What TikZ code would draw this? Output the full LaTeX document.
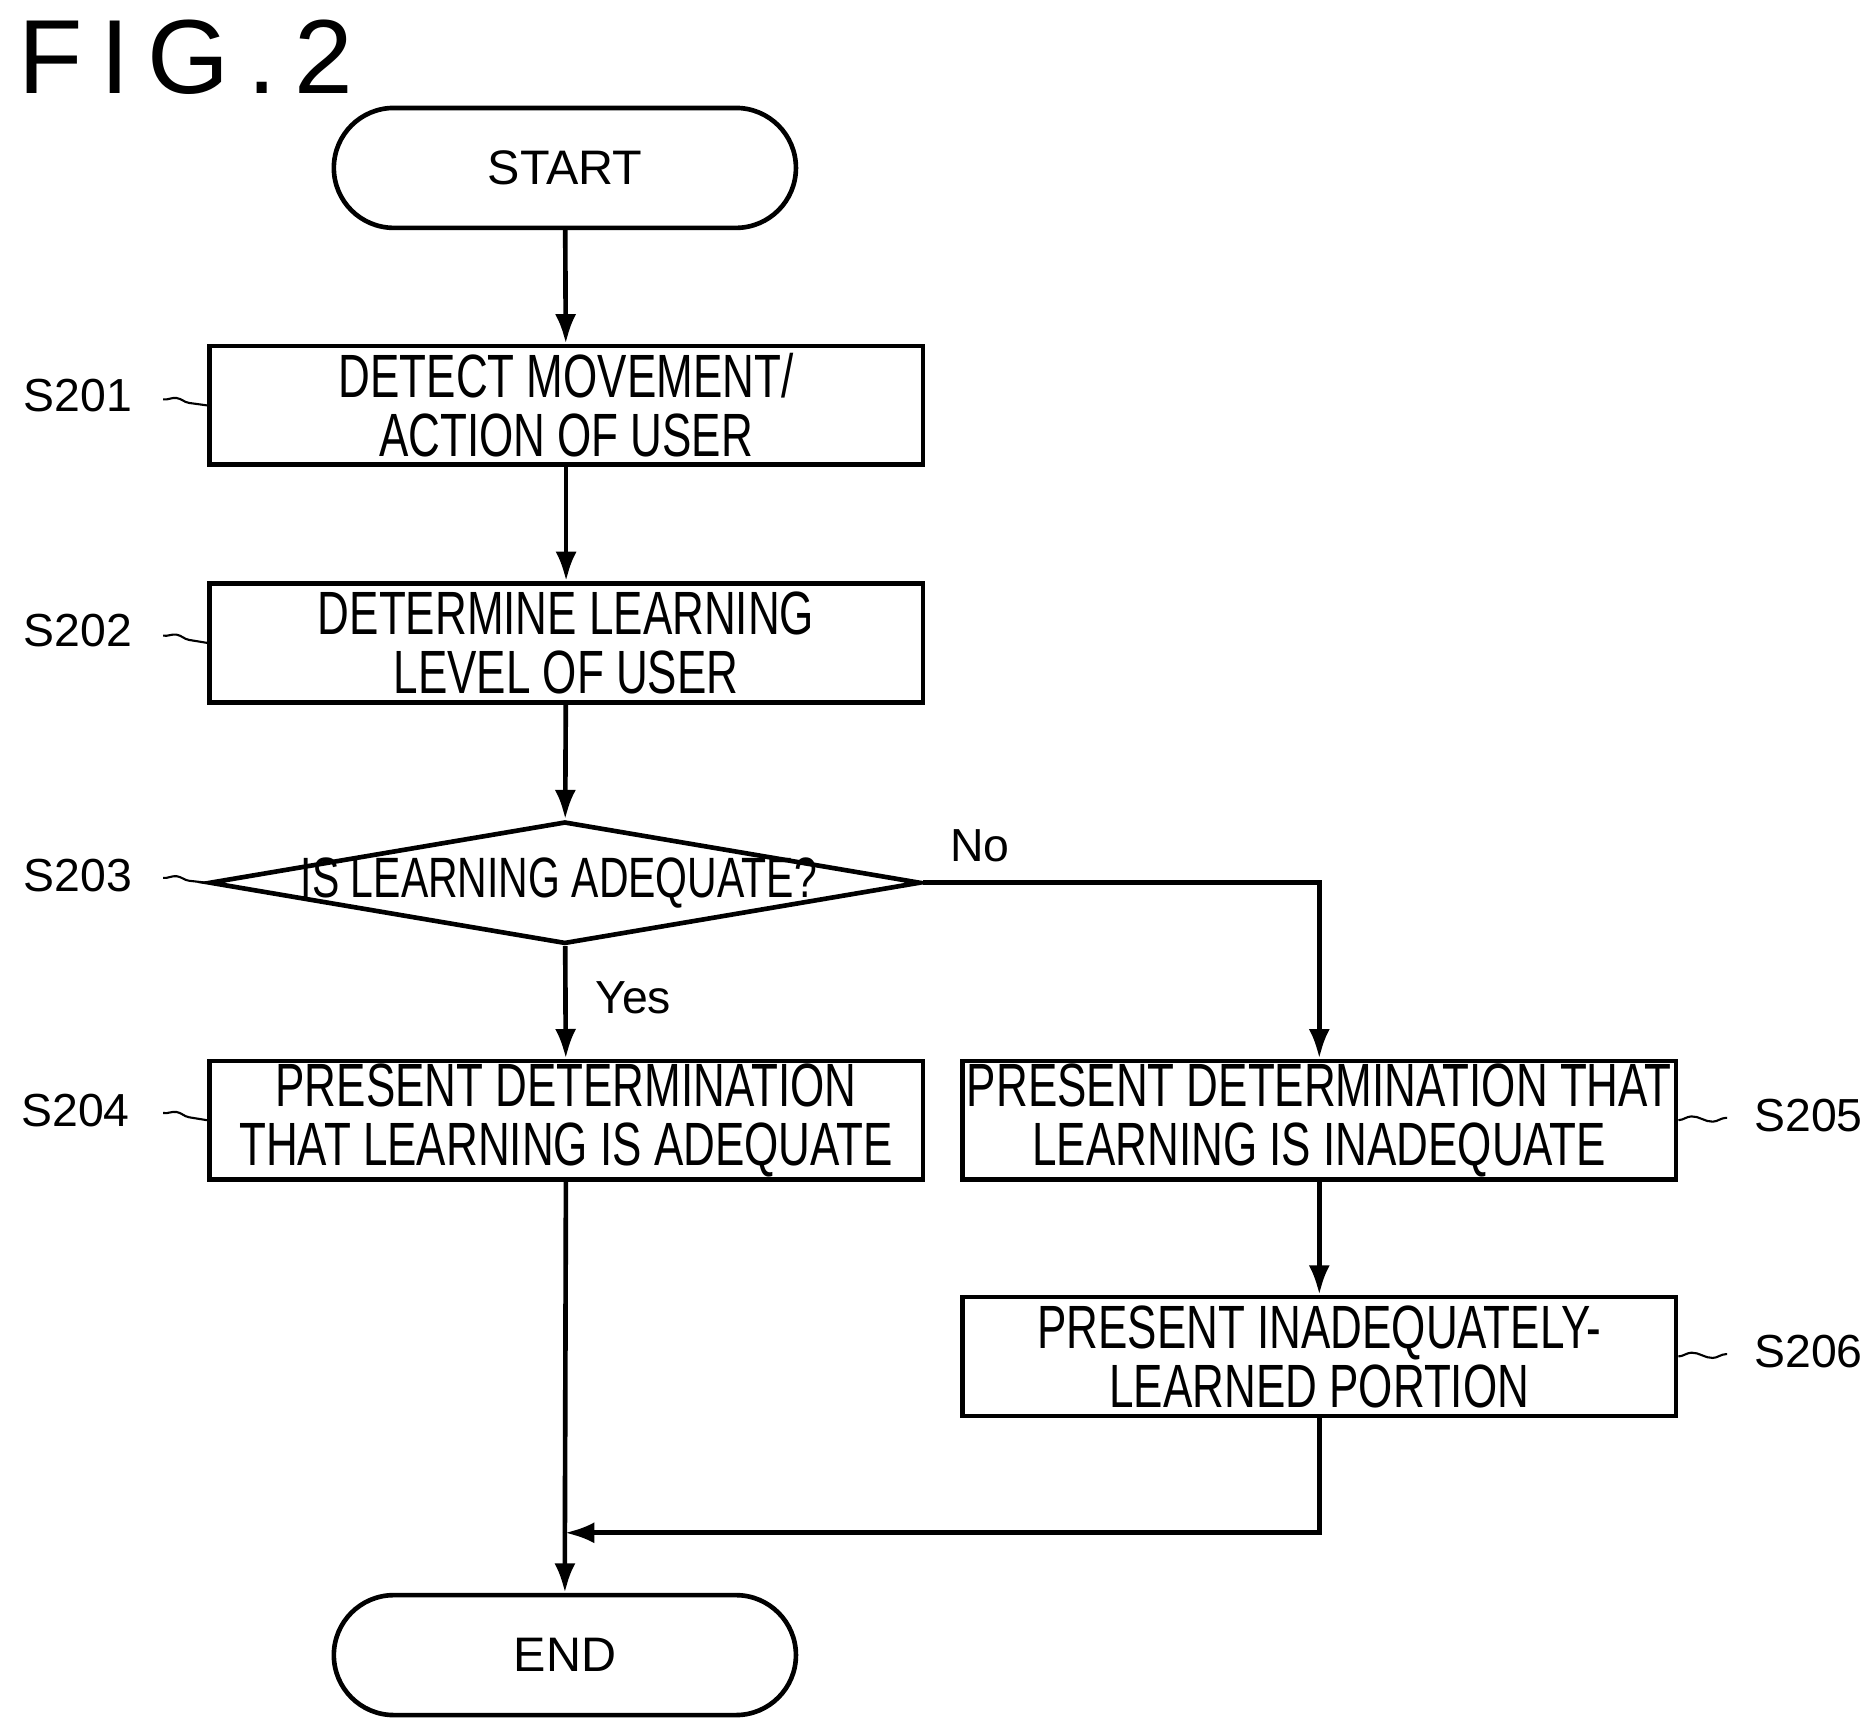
\documentclass[tikz,border=0pt]{standalone}
\usepackage{fontspec}
\setmainfont{Liberation Sans}
\newfontfamily\narrowf[FakeStretch=0.72]{Liberation Sans}
\usetikzlibrary{shapes.geometric,arrows.meta,decorations.pathmorphing}
\begin{document}
\begin{tikzpicture}[x=0.02cm,y=-0.02cm,line width=2.2pt,
 box/.style={draw,rectangle,minimum width=595*0.02cm,minimum height=99*0.02cm,inner sep=0pt,align=center,font=\narrowf\fontsize{29}{28}\selectfont},
 term/.style={draw,rounded rectangle,minimum width=397*0.02cm,minimum height=100*0.02cm,font=\fontsize{23}{26}\selectfont},
 lab/.style={font=\fontsize{22}{26}\selectfont},
 arr/.style={-{Latex[length=14pt,width=10pt]}},
 lead/.style={line width=1pt,decorate,decoration={snake,amplitude=1.5pt,segment length=20pt}}]
\usetikzlibrary{shapes.misc}
\useasboundingbox (0,0) rectangle (1560,1442);
\node[anchor=west,font=\fontsize{50}{50}\selectfont] (fig) at (8,48) {F\,I\,G\,.\,2};
\node[term] (start) at (471,140) {START};
\node[box] (s201) at (472,338) {DETECT MOVEMENT/\\ACTION OF USER};
\node[box] (s202) at (472,536) {DETERMINE LEARNING\\LEVEL OF USER};
\node[draw,diamond,aspect=5.8,minimum width=593*0.02cm,minimum height=102*0.02cm,inner sep=0pt,font=\narrowf\fontsize{29}{28}\selectfont] (s203) at (471,736) {};
\node[font=\narrowf\fontsize{27}{28}\selectfont] (s203t) at (466,736) {IS LEARNING ADEQUATE?};
\node[box] (s204) at (472,934) {PRESENT DETERMINATION\\THAT LEARNING IS ADEQUATE};
\node[box] (s205) at (1100,934) {PRESENT DETERMINATION THAT\\LEARNING IS INADEQUATE};
\node[box] (s206) at (1100,1131) {PRESENT INADEQUATELY-\\LEARNED PORTION};
\node[term] (end) at (471,1380) {END};
\coordinate (m) at (471,1278);
\draw[arr] (start) -- (s201);
\draw[arr] (s201) -- (s202);
\draw[arr] (s202) -- (s203);
\draw[arr] (s203) -- (s204);
\draw[arr] (s203.east) -| (s205);
\draw[arr] (s205) -- (s206);
\draw (s204) -- (m);
\draw[arr] (s206) |- (m);
\draw[arr] (m) -- (end);
\node[lab] (no) at (817,705) {No};
\node[lab] (yes) at (528,832) {Yes};
\node[lab] (l201) at (65,330) {S201};
\node[lab] (l202) at (65,526) {S202};
\node[lab] (l203) at (65,730) {S203};
\node[lab] (l204) at (63,926) {S204};
\node[lab] (l205) at (1508,930) {S205};
\node[lab] (l206) at (1508,1127) {S206};
\draw[lead] (136,333) -- (s201.west);
\draw[lead] (136,530) -- (s202.west);
\draw[lead] (136,732) -- (s203.west);
\draw[lead] (136,928) -- (s204.west);
\draw[lead] (s205.east) -- (1440,932);
\draw[lead] (s206.east) -- (1440,1129);
\end{tikzpicture}
\end{document}
